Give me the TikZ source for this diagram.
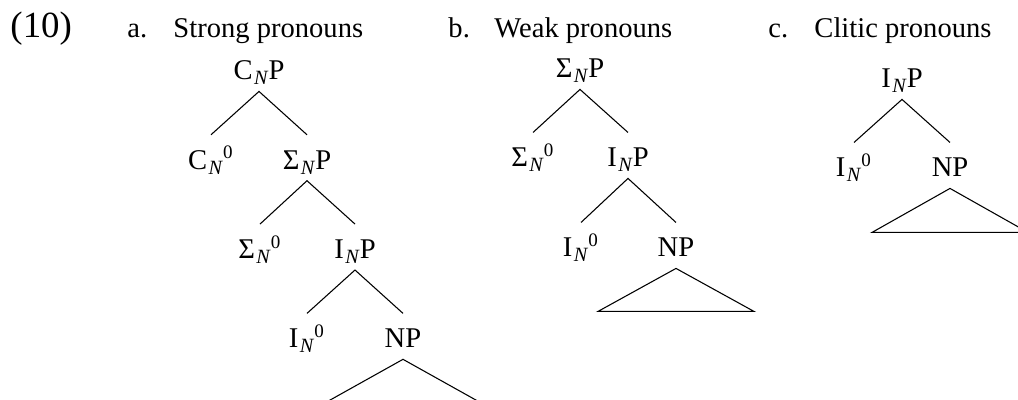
\documentclass[tikz,border=0pt]{standalone}
\usepackage{fontspec}
\setmainfont{Liberation Serif}
\usetikzlibrary{positioning}
\newcommand{\Ncat}[2]{#1\kern0.6pt\raisebox{-2.1pt}{\fontsize{8.5}{10}\selectfont\itshape N}\kern0.4pt#2}

\begin{document}
\begin{tikzpicture}[x=0.42pt,y=-0.42pt,
    every node/.style={font=\fontsize{12}{14.4}\selectfont},
    heading/.style={anchor=base west,inner sep=0pt},
    cat/.style={anchor=base,inner sep=1pt,text height=13.3pt,text depth=3.6pt},
    branch/.style={line width=0.45pt}]
    \useasboundingbox (0,0) rectangle (1018,400);
    \clip (0,0) rectangle (1018,400);
    % example number and headings
    \node[heading,font=\fontsize{15.5}{18}\selectfont] (exnum) at (10,38) {(10)};
    \node[heading] (aMark) at (127,38) {a.};
    \node[heading] (aHead) at (173,38) {Strong pronouns};
    \node[heading] (bMark) at (448,38) {b.};
    \node[heading] (bHead) at (494,38) {Weak pronouns};
    \node[heading] (cMark) at (768,38) {c.};
    \node[heading] (cHead) at (814,38) {Clitic pronouns};
    % a. strong
    \node[cat] (aCNP) at (259,80) {\Ncat{C}{P}};
    \node[cat] (aCN0) at (211,169.3) {\Ncat{C}{\textsuperscript{0}}};
    \node[cat] (aSNP) at (307,169.3) {\Ncat{Σ}{P}};
    \node[cat] (aSN0) at (260,258.6) {\Ncat{Σ}{\textsuperscript{0}}};
    \node[cat] (aINP) at (355,258.6) {\Ncat{I}{P}};
    \node[cat] (aIN0) at (307,347.9) {\Ncat{I}{\textsuperscript{0}}};
    \node[cat] (aNP) at (403,347.9) {NP};
    \draw[branch] (aCN0.north) -- (aCNP.south) -- (aSNP.north);
    \draw[branch] (aSN0.north) -- (aSNP.south) -- (aINP.north);
    \draw[branch] (aIN0.north) -- (aINP.south) -- (aNP.north);
    \draw[branch] (aNP.south) -- ++(-77,43) -- ++(154,0) -- cycle;
    % b. weak
    \node[cat] (bSNP) at (580,78) {\Ncat{Σ}{P}};
    \node[cat] (bSN0) at (533,167) {\Ncat{Σ}{\textsuperscript{0}}};
    \node[cat] (bINP) at (628,167) {\Ncat{I}{P}};
    \node[cat] (bIN0) at (581,257) {\Ncat{I}{\textsuperscript{0}}};
    \node[cat] (bNP) at (676,257) {NP};
    \draw[branch] (bSN0.north) -- (bSNP.south) -- (bINP.north);
    \draw[branch] (bIN0.north) -- (bINP.south) -- (bNP.north);
    \draw[branch] (bNP.south) -- ++(-78,43) -- ++(156,0) -- cycle;
    % c. clitic
    \node[cat] (cINP) at (902,88) {\Ncat{I}{P}};
    \node[cat] (cIN0) at (854,177) {\Ncat{I}{\textsuperscript{0}}};
    \node[cat] (cNP) at (950,177) {NP};
    \draw[branch] (cIN0.north) -- (cINP.south) -- (cNP.north);
    \draw[branch] (cNP.south) -- ++(-78,44) -- ++(156,0) -- cycle;
\end{tikzpicture}
\end{document}
